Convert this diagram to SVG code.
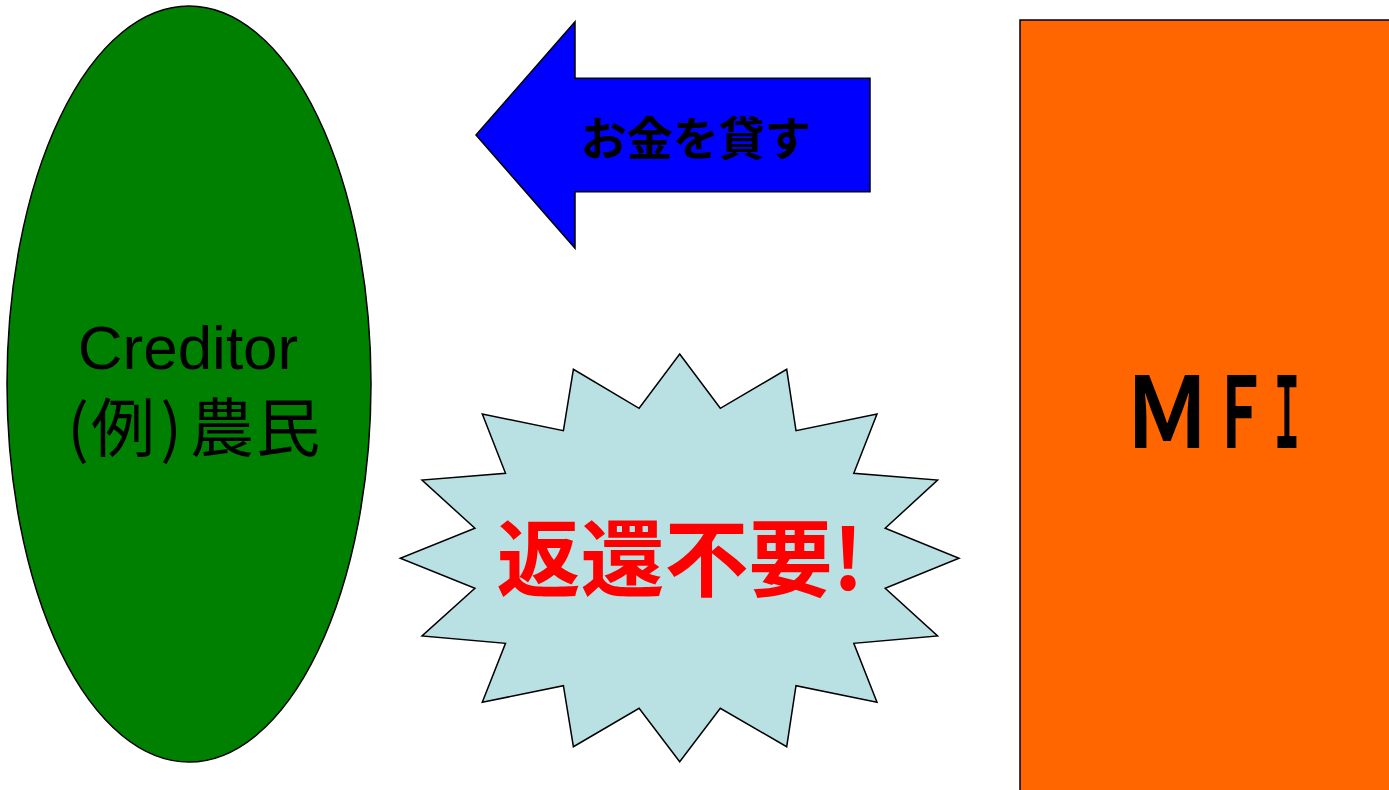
<svg xmlns="http://www.w3.org/2000/svg" width="1389" height="790" viewBox="0 0 1389 790">
<style>
.jp{font-family:"Noto Sans CJK JP","Liberation Sans",sans-serif}
.sans{font-family:"Liberation Sans","Noto Sans CJK JP",sans-serif}
.shape{stroke:#000;stroke-width:1.5}
.mfi{font-family:"Noto Sans CJK JP","Liberation Sans",sans-serif;font-size:98px;font-weight:bold;fill:#000;text-anchor:middle}
</style>
<rect width="1389" height="790" fill="#fff"/>
<g id="creditor">
<ellipse class="shape" cx="189" cy="384" rx="182" ry="378" fill="#008000"/>
<text class="sans" x="188" y="369" font-size="62" text-anchor="middle" fill="#000">Creditor</text>
<text class="jp" y="451" font-size="64" text-anchor="middle" fill="#000"><tspan x="78">(</tspan><tspan x="123">例</tspan><tspan x="171">)</tspan><tspan x="222">農</tspan><tspan x="288">民</tspan></text>
</g>
<g id="mfi">
<rect class="shape" x="1020" y="20" width="400" height="800" fill="#FF6600"/>
<text class="mfi" transform="translate(1167 448) scale(0.88 1)" x="0" y="0">Ｍ</text>
<text class="mfi" transform="translate(1240 448) scale(0.58 1)" x="0" y="0">Ｆ</text>
<text class="mfi" transform="translate(1287 448) scale(0.35 1)" x="0" y="0">Ｉ</text>
</g>
<g id="connectors">
<g id="lend-arrow">
<polygon class="shape" points="476,135 575,21.7 575,78.3 870,78.3 870,191.7 575,191.7 575,248.3" fill="#0000FF"/>
<text class="jp" x="696" y="155" font-size="46" font-weight="bold" text-anchor="middle" fill="#000">お金を貸す</text>
</g>
</g>
<g id="no-repay">
<polygon class="shape" fill="#B9E0E3" points="679.7,354 720.3,408.3 786.7,369.3 796,430.7 877,414 853.8,473.3 937.6,480 885.2,528.3 959,558.3 885.2,588.3 937.6,636 853.8,643.3 877,702.3 796,685.7 786.7,746.7 720.3,708.3 679.7,761.7 639.1,708.3 573.4,746.7 563.4,685.7 482.3,702.3 505.5,643.3 422,636 474.9,588.3 400.3,558.3 474.9,528.3 422,480 505.5,473.3 482.3,414 563.4,430.7 573.4,369.3 639.1,408.3"/>
<text class="jp" x="680" y="590" font-size="84" font-weight="bold" text-anchor="middle" fill="#FF0000">返還不要!</text>
</g>
</svg>
